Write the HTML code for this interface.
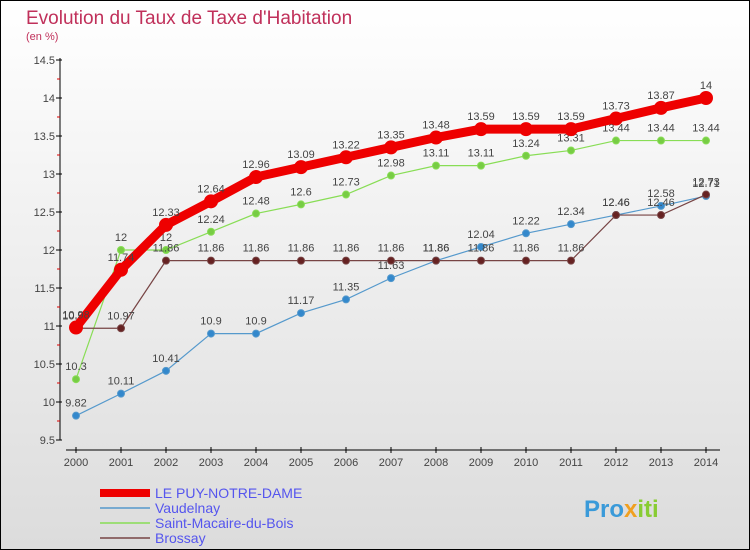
<!DOCTYPE html>
<html><head><meta charset="utf-8"><style>
body{margin:0}
#c{width:750px;height:550px;position:relative;box-sizing:border-box;border:1px solid #000;background:linear-gradient(#fff,#dcdcdc);font-family:"Liberation Sans",sans-serif;overflow:hidden}
</style></head><body>
<div id="c">
<svg id="s" width="750" height="550" style="position:absolute;left:-1px;top:-1px"></svg>
</div>
<script>
const years=[2000,2001,2002,2003,2004,2005,2006,2007,2008,2009,2010,2011,2012,2013,2014];
const puy=[10.98,11.74,12.33,12.64,12.96,13.09,13.22,13.35,13.48,13.59,13.59,13.59,13.73,13.87,14];
const vaud=[9.82,10.11,10.41,10.9,10.9,11.17,11.35,11.63,11.86,12.04,12.22,12.34,12.46,12.58,12.71];
const smac=[10.3,12,12,12.24,12.48,12.6,12.73,12.98,13.11,13.11,13.24,13.31,13.44,13.44,13.44];
const bros=[10.97,10.97,11.86,11.86,11.86,11.86,11.86,11.86,11.86,11.86,11.86,11.86,12.46,12.46,12.73];
const yTicks=[9.5,10,10.5,11,11.5,12,12.5,13,13.5,14,14.5];
const X=i=>76+i*45, Y=v=>60+(14.5-v)*76;
const s=document.getElementById('s');const NS='http://www.w3.org/2000/svg';
function el(t,a,name,txt,parent){const e=document.createElementNS(NS,t);for(const k in a)e.setAttribute(k,a[k]);


if(txt!==undefined)e.textContent=txt;(parent||s).appendChild(e);return e;}
el('text',{x:26,y:24,fill:'#c0305a','font-size':19},'chart-title','Evolution du Taux de Taxe d\'Habitation');
el('text',{x:26,y:40,fill:'#c0305a','font-size':11},'chart-subtitle','(en %)');
el('line',{x1:60,y1:58,x2:60,y2:440,stroke:'#000'},'y-axis');
el('line',{x1:66,y1:450,x2:720,y2:450,stroke:'#000'},'x-axis');
yTicks.forEach((v,k)=>{el('line',{x1:56,x2:62,y1:Y(v),y2:Y(v),stroke:'#000'},'y-tick');
if(k<yTicks.length-1)el('line',{x1:57,x2:60,y1:Y(v)-19,y2:Y(v)-19,stroke:'#d00'},'y-minor-tick');
el('text',{x:55,y:Y(v)+4,'text-anchor':'end','font-size':11,fill:'#444'},'y-tick-label',String(v));});
years.forEach((y,i)=>{el('line',{x1:X(i),x2:X(i),y1:447,y2:453,stroke:'#000'},'x-tick');
el('text',{x:X(i),y:466,'text-anchor':'middle','font-size':11,fill:'#444'},'x-tick-label',String(y));});
function series(d,col,w,r,fill,name){
el('polyline',{points:d.map((v,i)=>X(i)+','+Y(v)).join(' '),fill:'none',stroke:col,'stroke-width':w},name+'-line');
d.forEach((v,i)=>{el('circle',{cx:X(i),cy:Y(v),r:r,fill:fill,stroke:col},name+'-point');
el('text',{x:X(i),y:Y(v)-9,'text-anchor':'middle','font-size':11,fill:'#444'},name+'-value',String(v));});}
series(vaud,'#5599cc',1.2,3.5,'#3388cc','vaudelnay');
series(smac,'#88dd55',1.2,3.5,'#77cc44','saint-macaire');
series(bros,'#774444',1.2,3.5,'#662222','brossay');
series(puy,'#ee0000',9,6.5,'#ee0000','le-puy');
const leg=[['LE PUY-NOTRE-DAME','#ee0000',8],['Vaudelnay','#5599cc',1.5],['Saint-Macaire-du-Bois','#88dd55',1.5],['Brossay','#774444',1.5]];
leg.forEach((l,i)=>{const y=493+i*15;
el('line',{x1:100,x2:150,y1:y,y2:y,stroke:l[1],'stroke-width':l[2]},'legend-swatch');
el('text',{x:155,y:y+5,'font-size':14,fill:'#5555ee'},'legend-entry',l[0]);});
const lg=el('text',{x:584,y:517,'font-size':24,'font-weight':'bold'},'proxiti-logo');
el('tspan',{fill:'#3a9ad9'},'logo-pro','Pro',lg);
el('tspan',{fill:'#f0a020'},'logo-x','x',lg);
el('tspan',{fill:'#88cc33'},'logo-iti','iti',lg);
</script>
</body></html>
